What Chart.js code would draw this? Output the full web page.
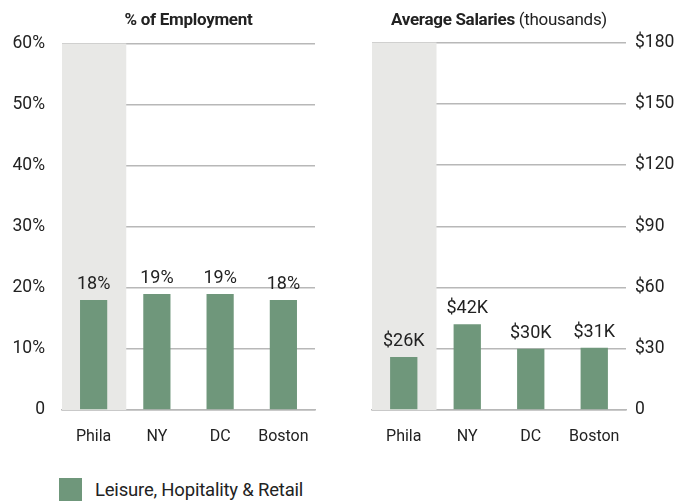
<!DOCTYPE html>
<html>
<head>
<meta charset="utf-8">
<script src="https://cdn.jsdelivr.net/npm/chart.js@4"></script>
<style>
  body { margin: 0; background: #fff; font-family: Roboto, sans-serif; color: #222; }
  #wrap { position: relative; width: 674px; height: 502px; overflow: hidden; }
  .box { position: absolute; }
  .title { position: absolute; top: 9px; font-size: 17px; text-align: center; white-space: nowrap; letter-spacing: -0.3px; }
  .title b { font-weight: bold; }
  #legend { position: absolute; left: 59px; top: 478px; font-size: 18.5px; display: flex; align-items: center; letter-spacing: -0.2px; }
  #legend span.sw { width: 23px; height: 23px; background: #6f977b; margin-right: 13px; }
</style>
</head>
<body>
<div id="wrap">
  <div class="box" style="left:0;top:16px;width:330px;height:434px;"><canvas id="empChart"></canvas></div>
  <div class="box" style="left:340px;top:23px;width:334px;height:427px;"><canvas id="salChart"></canvas></div>
  <div class="title" style="left:62px;width:253px;"><b>% of Employment</b></div>
  <div class="title" style="left:372px;width:254px;"><b>Average Salaries</b> (thousands)</div>
  <div id="legend"><span class="sw"></span>Leisure, Hopitality &amp; Retail</div>
</div>
<script>
// ----------------- Data -----------------
const cities = ["Phila", "NY", "DC", "Boston"];
const employmentPct = [18, 19, 19, 18];
const employmentLabels = ["18%", "19%", "19%", "18%"];
const salaries = [26, 42, 30, 30.5];
const salaryLabels = ["$26K", "$42K", "$30K", "$31K"];
const seriesName = "Leisure, Hopitality & Retail";

const barColor = "#6f977b";
const gridColor = "#b8b8b8";
const fontFamily = "Roboto, sans-serif";

// gray band behind the first category (Phila)
const bandPlugin = {
  id: "band",
  beforeDatasetsDraw(chart) {
    const { ctx, chartArea, scales } = chart;
    const step = (chartArea.right - chartArea.left) / cities.length;
    const x0 = scales.x.getPixelForValue(0) - step / 2;
    ctx.save();
    ctx.fillStyle = "#e8e8e6";
    ctx.fillRect(x0, chartArea.top, step + 1, chartArea.bottom - chartArea.top);
    ctx.restore();
  }
};

// value labels above bars
const valueLabels = {
  id: "valueLabels",
  afterDatasetsDraw(chart, args, opts) {
    const { ctx } = chart;
    const meta = chart.getDatasetMeta(0);
    ctx.save();
    ctx.font = "18px " + fontFamily;
    ctx.fillStyle = "#222";
    ctx.textAlign = "center";
    ctx.textBaseline = "alphabetic";
    meta.data.forEach((bar, i) => {
      ctx.fillText(opts.labels[i], bar.x, bar.y - 11);
    });
    ctx.restore();
  }
};

function makeChart(id, values, labels, max, step, side, tickFmt) {
  const ctx = document.getElementById(id).getContext("2d");
  return new Chart(ctx, {
    type: "bar",
    data: {
      labels: cities,
      datasets: [{
        label: seriesName,
        data: values,
        backgroundColor: barColor,
        categoryPercentage: 1,
        barPercentage: 0.43
      }]
    },
    plugins: [bandPlugin, valueLabels],
    options: {
      responsive: true,
      maintainAspectRatio: false,
      animation: false,
      layout: { padding: side === "left" ? { right: 15 } : { left: 32 } },
      plugins: {
        legend: { display: false },
        tooltip: { enabled: false },
        valueLabels: { labels: labels }
      },
      scales: {
        x: {
          grid: { display: false },
          border: { display: true, color: gridColor, width: 1.5 },
          ticks: { color: "#222", font: { family: fontFamily, size: 16 }, padding: 9 },
          afterFit(scale) { scale.height = 40; }
        },
        y: {
          position: side,
          min: 0,
          max: max,
          afterFit(scale) { scale.width = side === "left" ? 62 : 48; },
          grid: { color: gridColor, lineWidth: 1.5, drawTicks: false },
          border: { display: false },
          ticks: {
            stepSize: step,
            color: "#222",
            padding: side === "left" ? 17 : 9,
            font: { family: fontFamily, size: 17.5 },
            callback: tickFmt
          }
        }
      }
    }
  });
}

window.addEventListener("DOMContentLoaded", () => {
  makeChart("empChart", employmentPct, employmentLabels, 60, 10, "left", v => v === 0 ? "0" : v + "%");
  makeChart("salChart", salaries, salaryLabels, 180, 30, "right", v => v === 0 ? "0" : "$" + v);
});
</script>
</body>
</html>
